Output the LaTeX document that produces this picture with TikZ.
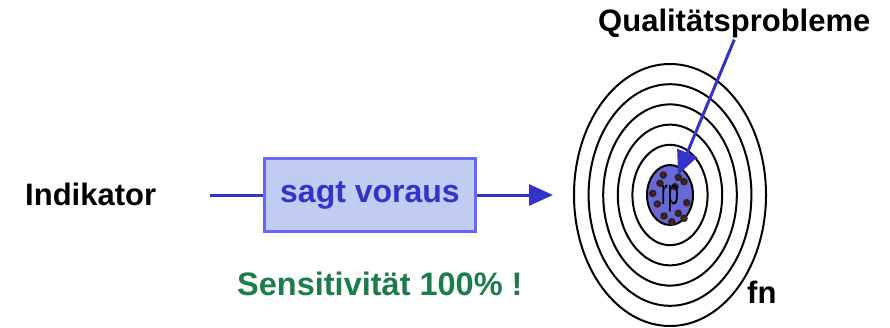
\documentclass[tikz,border=0pt]{standalone}
\usepackage{fontspec}
\setmainfont{Liberation Sans}
\usetikzlibrary{arrows.meta,shapes.geometric,positioning}

\definecolor{boxline}{RGB}{102,102,255}
\definecolor{boxfill}{RGB}{192,204,242}
\definecolor{arrowblue}{RGB}{51,51,204}
\definecolor{coreblue}{RGB}{104,104,214}
\definecolor{sensgreen}{RGB}{28,125,76}

\begin{document}
\begin{tikzpicture}[
        x=1pt, y=1pt,
        every node/.style={font=\fontsize{31}{36}\selectfont\bfseries, inner sep=1pt},
        caption/.style={anchor=base west},
        predict/.style={draw=boxline, line width=3pt, fill=boxfill, text=arrowblue,
            minimum width=211pt, minimum height=73pt, font=\fontsize{32}{36}\selectfont\bfseries},
        flow/.style={draw=arrowblue, line width=3pt, -{Triangle[length=24pt, width=21pt]}},
        ring/.style={draw=black, line width=2pt},
        core/.style={ellipse, draw=black, line width=2pt, fill=coreblue,
            minimum width=46pt, minimum height=60pt},
        spot/.style={fill=black!85}
    ]
    \useasboundingbox (0,0) rectangle (890,327);

    % Nodes
    \node (indik) [caption] at (24,122) {Indikator};
    \node (predict) [predict] at (370,132) {sagt voraus};
    \node (sens) [caption, text=sensgreen, font=\fontsize{32.5}{36}\selectfont\bfseries] at (236,32) {Sensitivität 100\% !};
    \node (qual) [caption] at (597,295) {Qualitätsprobleme};
    \node (fn) [caption] at (746,24) {fn};
    \coordinate (feed) at (210,132);
    \coordinate (aim) at (553,132);
    \coordinate (target) at (670,132);
    \coordinate (hit) at (678,152);

    % Rings
    \foreach \k in {5,4,...,1}
        \draw[ring] (target) ellipse [x radius={23+14.6*\k}, y radius={30+20.2*\k}];
    \node (rp) [core] at (target) {};
    \foreach \dx/\dy in {-6.7/20, -10/11.7, 8.3/17.7, 14/13.3, 5/8.3, -17.3/1.7,
                        -12.7/-9, 16.7/-7.7, -6/-21, 8.3/-18.3, 14/-23.3, 1.7/-26.7} {
        \fill[spot] ([shift={(\dx,\dy)}]rp.center) circle [radius=3.8];
        \draw[red!80!black, line width=0.3pt] ([shift={(\dx-1,\dy)}]rp.center) -- ++(2,0)
                                     ([shift={(\dx,\dy-1)}]rp.center) -- ++(0,2);
    }
    \node (rptext) [font=\fontsize{36}{36}\selectfont] at ([yshift=-4pt]rp.center) {\scalebox{0.55}[1]{rp}};

    % Edges
    \draw[draw=arrowblue, line width=3pt] (feed) -- (predict.west);
    \draw[flow] (predict.east) -- (aim);
    \draw[flow] (qual.south) -- (hit);

\end{tikzpicture}
\end{document}
